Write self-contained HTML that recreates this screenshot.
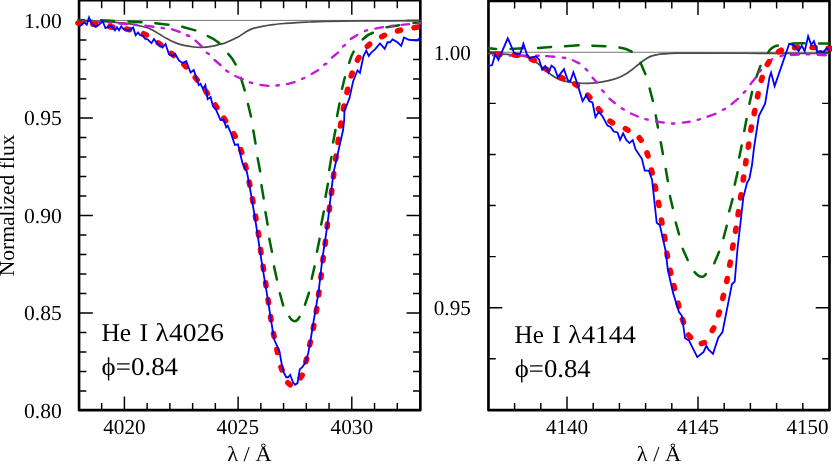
<!DOCTYPE html>
<html><head><meta charset="utf-8"><title>He I line profiles</title>
<style>html,body{margin:0;padding:0;background:#fff;overflow:hidden}body{width:832px;height:466px;font-family:"Liberation Serif",serif}</style></head>
<body>
<svg width="832" height="466" viewBox="0 0 832 466" style="display:block">
<rect width="832" height="466" fill="#fff"/>
<filter id="nf" x="0" y="0" width="832" height="466" filterUnits="userSpaceOnUse"><feOffset dx="0" dy="0"/></filter>
<path d="M101.66,410.2v-7.3M124.40,410.2v-13.8M147.14,410.2v-7.3M169.88,410.2v-7.3M192.62,410.2v-7.3M215.36,410.2v-7.3M238.10,410.2v-13.8M260.84,410.2v-7.3M283.58,410.2v-7.3M306.32,410.2v-7.3M329.06,410.2v-7.3M351.80,410.2v-13.8M374.54,410.2v-7.3M397.28,410.2v-7.3M101.66,0.05v8.1M124.40,0.05v14.6M147.14,0.05v8.1M169.88,0.05v8.1M192.62,0.05v8.1M215.36,0.05v8.1M238.10,0.05v14.6M260.84,0.05v8.1M283.58,0.05v8.1M306.32,0.05v8.1M329.06,0.05v8.1M351.80,0.05v14.6M374.54,0.05v8.1M397.28,0.05v8.1M79.05,20.50h13.8M79.05,40.00h7.3M79.05,59.50h7.3M79.05,79.00h7.3M79.05,98.50h7.3M79.05,118.00h13.8M79.05,137.50h7.3M79.05,157.00h7.3M79.05,176.50h7.3M79.05,196.00h7.3M79.05,215.50h13.8M79.05,235.00h7.3M79.05,254.50h7.3M79.05,274.00h7.3M79.05,293.50h7.3M79.05,313.00h13.8M79.05,332.50h7.3M79.05,352.00h7.3M79.05,371.50h7.3M79.05,391.00h7.3M420.35,20.50h-13.8M420.35,40.00h-7.3M420.35,59.50h-7.3M420.35,79.00h-7.3M420.35,98.50h-7.3M420.35,118.00h-13.8M420.35,137.50h-7.3M420.35,157.00h-7.3M420.35,176.50h-7.3M420.35,196.00h-7.3M420.35,215.50h-13.8M420.35,235.00h-7.3M420.35,254.50h-7.3M420.35,274.00h-7.3M420.35,293.50h-7.3M420.35,313.00h-13.8M420.35,332.50h-7.3M420.35,352.00h-7.3M420.35,371.50h-7.3M420.35,391.00h-7.3" stroke="#000" stroke-width="1.45" fill="none"/>
<rect x="79.05" y="0.05" width="341.30" height="410.15" fill="none" stroke="#000" stroke-width="2.65" stroke-linejoin="round"/>
<path d="M514.60,410.2v-7.3M540.80,410.2v-7.3M567.00,410.2v-13.8M593.20,410.2v-7.3M619.40,410.2v-7.3M645.60,410.2v-7.3M671.80,410.2v-7.3M698.00,410.2v-13.8M724.20,410.2v-7.3M750.40,410.2v-7.3M776.60,410.2v-7.3M802.80,410.2v-7.3M514.60,0.9v7.5M540.80,0.9v7.5M567.00,0.9v14M593.20,0.9v7.5M619.40,0.9v7.5M645.60,0.9v7.5M671.80,0.9v7.5M698.00,0.9v14M724.20,0.9v7.5M750.40,0.9v7.5M776.60,0.9v7.5M802.80,0.9v7.5M488.45,52.30h13.8M488.45,103.38h7.3M488.45,154.46h7.3M488.45,205.54h7.3M488.45,256.62h7.3M488.45,307.70h13.8M488.45,358.78h7.3M829.5,52.30h-13.8M829.5,103.38h-7.3M829.5,154.46h-7.3M829.5,205.54h-7.3M829.5,256.62h-7.3M829.5,307.70h-13.8M829.5,358.78h-7.3" stroke="#000" stroke-width="1.45" fill="none"/>
<rect x="488.45" y="0.9" width="341.05" height="409.30" fill="none" stroke="#000" stroke-width="2.65" stroke-linejoin="round"/>
<clipPath id="cL"><rect x="74.45" y="0" width="350.50" height="411.50"/></clipPath>
<g clip-path="url(#cL)" fill="none">
<path d="M79.05,20.4H420.35" stroke="#505050" stroke-width="0.8"/>
<path d="M78.00,20.70 C81.67,20.80 93.83,21.03 100.00,21.30 C106.17,21.57 110.00,21.88 115.00,22.30 C120.00,22.72 125.88,23.21 130.00,23.80 C134.12,24.39 136.68,25.15 139.70,25.85 C142.72,26.55 145.70,27.14 148.10,28.00 C150.50,28.86 152.10,29.90 154.10,31.00 C156.10,32.10 157.90,33.30 160.10,34.60 C162.30,35.90 164.90,37.50 167.30,38.80 C169.70,40.10 171.70,41.30 174.50,42.40 C177.30,43.50 180.89,44.63 184.10,45.40 C187.31,46.17 190.93,46.67 193.75,47.00 C196.57,47.33 198.08,47.50 201.00,47.40 C203.92,47.30 208.08,46.92 211.25,46.40 C214.42,45.88 217.71,44.87 220.00,44.30 C222.29,43.73 222.17,44.12 225.00,43.00 C227.83,41.88 233.60,39.40 237.00,37.60 C240.40,35.80 242.80,33.70 245.40,32.20 C248.00,30.70 250.00,29.53 252.60,28.60 C255.20,27.67 257.60,27.26 261.00,26.60 C264.40,25.94 269.00,25.17 273.00,24.65 C277.00,24.12 281.00,23.79 285.00,23.45 C289.00,23.11 293.00,22.84 297.00,22.60 C301.00,22.36 304.33,22.22 309.00,22.00 C313.67,21.78 316.50,21.48 325.00,21.30 C333.50,21.12 343.92,21.00 360.00,20.90 C376.08,20.80 411.25,20.73 421.50,20.70" stroke="#4a4a4a" stroke-width="1.7"/>
<path d="M78.50,19.95L84.00,20.20M101.00,20.30L114.00,20.95M128.50,21.55L141.50,22.20M155.39,23.21L168.41,24.64M182.21,26.76L195.29,30.34M207.76,36.12Q213.95,38.65 219.14,42.98M228.32,53.92Q232.60,58.40 235.68,64.48M240.89,77.86L244.71,90.29M247.99,104.07L251.01,116.53M253.36,130.59L255.54,143.61M257.68,158.18L260.12,171.32M261.46,185.29L263.64,198.41M265.47,212.19L267.63,224.51M269.30,238.78L271.90,251.82M274.01,266.38L276.89,279.52M279.86,293.27L283.14,305.43M289.40,316.90Q294.95,325.50 299.50,316.90M305.02,304.65L308.98,292.75M311.72,278.73L314.58,266.37M317.00,251.82L319.60,238.78M321.20,224.52L323.80,211.48M325.48,196.92L327.92,183.78M329.26,170.01L331.44,156.99M333.08,142.42L335.42,129.98M337.09,116.02L339.51,103.48M342.04,88.73L344.86,77.22M349.17,62.82Q350.80,56.42 353.63,51.53M362.74,39.45Q366.97,34.67 372.91,32.80M386.59,27.33L399.01,25.17M413.50,23.05L420.00,22.75" stroke="#006400" stroke-width="2.5" stroke-linecap="round"/>
<path d="M82.55,21.52L84.95,21.58M92.60,21.85L100.60,22.25M108.80,22.66L111.20,22.84M119.10,23.55L127.10,23.95M134.43,24.80L136.82,24.95M145.39,25.73L153.41,26.77M161.65,27.83L164.00,28.32M172.19,29.33L179.66,31.92M186.99,35.25L189.26,36.00M195.49,40.68L201.51,46.22M206.83,52.65L208.82,54.00M214.52,60.04L220.48,64.96M226.14,70.57L228.21,71.78M235.31,76.01L242.84,79.34M249.79,82.36L252.11,82.99M260.39,84.87L268.41,85.88M276.46,85.53L278.84,85.27M286.97,84.05L294.53,82.05M302.09,78.91L304.31,77.99M311.66,73.99L318.04,70.21M324.21,64.66L326.39,63.64M332.03,57.47L337.97,52.63M343.12,46.40L344.98,44.90M350.85,38.87L357.25,34.93M364.84,31.07L367.06,30.18M375.38,28.56L382.77,27.09M390.98,25.95L393.37,25.65M401.59,24.89L409.01,24.11M417.80,23.49L420.20,23.41" stroke="#c21ad8" stroke-width="2.4" stroke-linecap="round"/>
<path d="M77.86,22.97L80.94,23.23M92.86,24.22L95.94,24.58M109.72,26.67L112.78,27.13M126.59,29.06L129.61,29.74M143.59,33.75L146.41,35.05M158.15,42.84L160.65,44.66M171.32,53.39L173.68,55.41M183.92,64.49L186.08,66.71M195.28,77.54L197.22,79.96M205.60,90.99L207.40,93.51M215.14,104.96L216.86,107.54M223.86,118.19L225.54,120.81M233.68,133.63L235.12,136.37M240.68,149.54L241.72,152.46M245.32,165.20L246.08,168.20M249.18,182.08L249.82,185.12M252.42,198.88L252.98,201.92M255.44,215.97L255.96,219.03M258.27,232.47L258.73,235.53M260.58,249.57L261.02,252.63M263.07,266.37L263.53,269.43M265.57,282.77L266.03,285.83M268.07,299.77L268.53,302.83M270.55,316.67L271.05,319.73M273.50,333.48L274.10,336.52M276.85,349.49L277.55,352.51M280.97,367.04L282.03,369.96M287.85,382.71L290.15,384.79M300.33,377.75L302.17,375.25M305.85,361.75L306.65,358.75M309.67,345.01L310.33,341.99M313.20,328.52L313.80,325.48M316.26,311.63L316.74,308.57M318.59,295.04L319.01,291.96M320.91,277.74L321.29,274.66M322.91,260.64L323.29,257.56M325.11,244.34L325.49,241.26M327.11,227.04L327.49,223.96M329.20,210.24L329.60,207.16M331.41,193.44L331.79,190.36M333.41,176.84L333.79,173.76M335.69,159.24L336.11,156.16M337.98,142.43L338.42,139.37M340.45,126.03L340.95,122.97M343.40,109.12L344.00,106.08M346.94,92.31L347.66,89.29M351.20,75.97L352.20,73.03M357.43,60.09L358.97,57.41M367.36,46.30L369.64,44.20M381.70,36.67L384.50,35.33M397.50,30.99L400.50,30.21M414.08,27.78L417.12,27.22" stroke="#ff0000" stroke-width="5.6" stroke-linecap="round"/>
<path d="M78.75,26.90 L84.40,22.50 L86.83,24.74 L89.07,17.56 L91.25,23.10 L95.60,26.90 L99.40,24.40 L102.75,21.26 L105.40,28.10 L111.25,25.60 L114.99,30.50 L116.91,27.19 L118.99,30.31 L121.26,26.31 L123.75,29.40 L128.75,30.60 L133.10,27.50 L135.66,35.29 L138.10,32.50 L140.00,35.00 L143.10,36.25 L145.00,38.75 L147.50,39.40 L151.50,43.10 L154.00,39.01 L157.50,43.75 L162.50,47.50 L165.55,44.02 L169.00,54.40 L172.50,56.25 L175.00,53.75 L178.90,60.50 L182.50,63.00 L186.25,61.25 L190.60,72.50 L193.75,70.00 L198.75,85.00 L200.60,83.75 L203.08,89.06 L205.35,85.22 L207.60,99.16 L210.58,96.96 L213.00,106.25 L216.10,110.00 L220.50,120.00 L223.60,119.75 L226.18,127.34 L227.71,125.57 L231.10,133.75 L234.90,145.00 L238.00,144.40 L242.40,163.00 L247.00,172.30 L250.70,192.40 L254.50,215.00 L257.50,234.00 L262.00,264.20 L267.00,294.30 L273.30,334.50 L274.40,340.00 L279.40,351.25 L281.90,365.00 L283.75,372.50 L286.25,377.25 L288.10,377.25 L290.22,374.92 L293.10,382.50 L295.00,384.75 L297.50,383.10 L299.75,369.40 L302.50,366.90 L305.00,363.10 L308.10,353.75 L310.60,340.00 L313.50,321.90 L318.60,291.80 L322.30,259.10 L326.10,234.00 L328.60,215.00 L331.10,192.40 L333.60,172.30 L337.50,155.00 L340.40,142.00 L343.10,130.00 L344.20,120.00 L344.40,111.30 L349.50,98.10 L353.10,81.40 L357.53,70.29 L359.97,72.79 L363.50,56.00 L366.23,50.51 L368.79,55.89 L371.25,52.50 L375.00,49.40 L380.00,43.50 L384.73,48.88 L387.50,42.25 L390.00,42.25 L392.50,39.40 L397.50,42.25 L401.22,45.88 L404.00,37.50 L408.75,39.75 L417.50,40.60 L420.60,36.90" stroke="#0000ff" stroke-width="1.8" stroke-linejoin="miter" stroke-miterlimit="12"/>
</g>
<clipPath id="cR"><rect x="483.85" y="0" width="350.25" height="411.50"/></clipPath>
<g clip-path="url(#cR)" fill="none">
<path d="M488.45,52.25H829.5" stroke="#505050" stroke-width="0.8"/>
<path d="M487.50,53.50 C489.58,53.57 496.42,53.73 500.00,53.90 C503.58,54.07 506.00,54.27 509.00,54.50 C512.00,54.73 515.08,54.90 518.00,55.30 C520.92,55.70 523.42,55.70 526.50,56.90 C529.58,58.10 533.58,60.48 536.50,62.50 C539.42,64.52 541.50,66.92 544.00,69.00 C546.50,71.08 549.00,73.27 551.50,75.00 C554.00,76.73 556.75,78.37 559.00,79.40 C561.25,80.43 562.83,80.67 565.00,81.20 C567.17,81.73 569.50,82.27 572.00,82.60 C574.50,82.93 577.33,83.07 580.00,83.20 C582.67,83.33 585.17,83.50 588.00,83.40 C590.83,83.30 594.17,82.95 597.00,82.60 C599.83,82.25 602.29,81.83 605.00,81.30 C607.71,80.77 610.75,80.12 613.25,79.40 C615.75,78.68 617.71,78.02 620.00,77.00 C622.29,75.98 625.00,74.52 627.00,73.30 C629.00,72.08 630.33,70.97 632.00,69.70 C633.67,68.43 635.33,67.03 637.00,65.70 C638.67,64.37 640.33,62.95 642.00,61.70 C643.67,60.45 645.33,59.17 647.00,58.20 C648.67,57.23 650.33,56.48 652.00,55.90 C653.67,55.32 655.17,55.08 657.00,54.75 C658.83,54.42 660.92,54.11 663.00,53.90 C665.08,53.69 667.33,53.62 669.50,53.50 C671.67,53.38 670.92,53.25 676.00,53.20 C681.08,53.15 686.00,53.18 700.00,53.20 C714.00,53.22 738.33,53.25 760.00,53.30 C781.67,53.35 818.33,53.47 830.00,53.50" stroke="#4a4a4a" stroke-width="1.7"/>
<path d="M488.75,48.20L496.10,48.90M510.60,48.94L523.00,48.16M538.10,48.02L551.10,46.98M565.00,46.19L578.60,45.36M592.40,45.64L605.40,46.21M619.45,47.56Q626.45,48.42 631.65,51.59M640.50,62.82L645.35,74.08M649.65,88.47L652.85,100.93M655.77,115.38L657.93,127.52M660.78,142.23L662.92,154.02M665.77,169.09L667.83,181.01M669.93,196.07L672.77,207.93M675.77,222.46L679.03,234.34M682.71,248.81L687.69,259.99M694.59,272.16Q701.80,280.50 705.81,274.04M714.29,263.28L719.11,251.82M723.46,238.13L726.74,225.77M729.26,211.23L732.54,199.07M734.72,184.63L737.58,172.17M739.20,157.42L741.70,145.48M744.28,131.02L746.52,118.98M749.42,103.82L752.08,91.88M756.44,76.86L760.41,65.94M768.21,52.51Q771.00,46.95 777.79,45.59M792.10,43.47L804.50,43.13M819.00,43.50L829.00,43.50" stroke="#006400" stroke-width="2.5" stroke-linecap="round"/>
<path d="M493.20,55.40L501.20,55.40M509.70,55.50L512.10,55.50M519.75,55.51L527.75,55.59M536.30,55.72L538.70,55.78M546.25,56.09L554.25,56.81M562.81,57.61L565.19,57.99M572.90,60.23L579.30,63.32M585.62,68.89L587.38,70.51M592.65,77.66L596.85,82.54M602.13,90.25L603.77,92.00M609.52,98.74L614.83,103.11M621.76,108.37L623.89,109.48M630.92,113.50L637.83,116.50M645.38,119.09L647.72,119.66M655.99,121.53L663.81,122.57M671.92,123.50L674.33,123.50M682.89,122.62L689.61,121.73M697.69,119.80L700.01,119.20M707.55,116.58L715.55,113.92M722.89,109.82L725.11,108.88M731.56,104.15L737.84,98.85M743.65,92.85L745.35,91.15M750.61,84.11L755.39,77.99M759.34,71.81L761.01,70.09M765.75,64.84L772.25,59.16M780.64,56.20L782.86,55.30M790.90,54.94L798.90,54.46M806.80,54.40L809.20,54.40M817.75,54.80L825.75,55.20" stroke="#c21ad8" stroke-width="2.4" stroke-linecap="round"/>
<path d="M496.85,54.32L499.95,54.48M514.37,55.01L517.43,55.49M531.34,59.10L534.16,60.40M545.18,68.58L547.82,70.22M560.32,77.08L563.08,78.52M574.82,83.93L577.38,85.67M587.70,95.11L589.80,97.39M598.38,108.83L600.42,111.17M609.99,121.10L612.51,122.90M625.36,128.62L628.04,130.18M639.26,137.81L641.24,140.19M646.98,152.94L648.02,155.86M651.44,169.99L652.16,173.01M655.08,186.08L655.72,189.12M658.42,202.38L658.98,205.42M661.43,219.97L661.97,223.03M664.45,236.27L664.95,239.33M666.94,253.37L667.46,256.43M670.17,270.29L670.83,273.31M673.84,285.49L674.56,288.51M678.01,303.20L678.79,306.20M682.48,319.34L683.52,322.26M688.47,335.04L690.53,337.36M701.41,343.54L704.39,342.66M712.26,330.56L713.74,327.84M718.44,314.98L719.36,312.02M722.74,298.41L723.46,295.39M726.68,281.52L727.32,278.48M729.73,265.23L730.27,262.17M732.54,248.13L733.06,245.07M735.55,231.33L736.05,228.27M738.07,214.73L738.53,211.67M740.57,197.93L741.03,194.87M743.18,180.03L743.62,176.97M745.56,163.73L746.04,160.67M748.26,147.13L748.74,144.07M750.83,130.13L751.37,127.07M754.19,113.62L754.81,110.58M757.47,96.81L758.13,93.79M761.32,80.27L762.28,77.33M767.40,64.40L769.10,61.80M778.55,51.76L781.25,50.24M794.56,47.66L797.64,47.34M812.05,47.45L815.15,47.55M828.35,48.41L831.45,48.59" stroke="#ff0000" stroke-width="5.6" stroke-linecap="round"/>
<path d="M487.75,66.25 L492.10,65.00 L495.33,54.29 L498.40,59.84 L507.75,38.27 L514.00,52.50 L517.10,54.40 L520.25,53.50 L523.41,43.67 L527.10,55.00 L530.25,58.10 L533.40,56.90 L535.90,56.50 L539.00,59.40 L542.17,69.64 L545.23,66.17 L548.39,72.71 L551.50,65.60 L554.60,68.10 L557.81,77.12 L563.94,69.13 L567.75,80.00 L570.25,81.25 L573.40,72.16 L577.10,83.00 L582.59,101.13 L586.24,95.34 L589.40,101.25 L592.50,102.50 L595.43,117.05 L598.75,111.90 L602.50,116.25 L607.50,125.60 L610.60,126.90 L613.75,131.50 L617.50,132.50 L620.04,139.89 L623.13,133.39 L626.25,140.00 L629.40,143.10 L632.72,140.09 L635.60,149.40 L641.90,158.75 L644.75,170.60 L648.10,170.60 L649.10,171.25 L652.10,180.00 L656.70,222.80 L659.90,225.30 L665.50,250.40 L667.90,270.00 L673.10,293.10 L679.00,312.00 L681.90,315.80 L685.10,338.30 L688.90,340.40 L697.30,357.20 L703.60,351.90 L706.32,345.79 L708.40,349.40 L712.97,353.88 L718.30,337.60 L722.50,332.00 L727.70,305.70 L731.90,284.30 L734.70,281.60 L735.70,270.00 L737.60,247.90 L740.80,220.25 L743.30,197.60 L747.10,182.60 L749.40,178.60 L752.00,165.00 L754.00,147.80 L758.90,115.80 L765.10,103.70 L769.50,77.20 L771.05,72.64 L774.62,86.07 L789.25,43.75 L794.25,45.60 L798.59,51.16 L801.72,45.61 L804.70,51.25 L808.13,36.20 L811.21,44.82 L813.92,41.26 L817.40,51.90 L820.50,51.00 L823.60,51.90 L826.75,48.10 L829.90,50.60" stroke="#0000ff" stroke-width="1.8" stroke-linejoin="miter" stroke-miterlimit="12"/>
</g>
<g font-family="'Liberation Serif', serif" fill="#000" text-rendering="geometricPrecision" filter="url(#nf)">
<text x="61.8" y="27.8" font-size="21.4" text-anchor="end" textLength="37.8" lengthAdjust="spacingAndGlyphs">1.00</text>
<text x="61.8" y="125.3" font-size="21.4" text-anchor="end" textLength="37.8" lengthAdjust="spacingAndGlyphs">0.95</text>
<text x="61.8" y="222.8" font-size="21.4" text-anchor="end" textLength="37.8" lengthAdjust="spacingAndGlyphs">0.90</text>
<text x="61.8" y="320.3" font-size="21.4" text-anchor="end" textLength="37.8" lengthAdjust="spacingAndGlyphs">0.85</text>
<text x="61.8" y="417.8" font-size="21.4" text-anchor="end" textLength="37.8" lengthAdjust="spacingAndGlyphs">0.80</text>
<text x="470.8" y="59.599999999999994" font-size="21.4" text-anchor="end" textLength="37.0" lengthAdjust="spacingAndGlyphs">1.00</text>
<text x="470.8" y="315.0" font-size="21.4" text-anchor="end" textLength="37.0" lengthAdjust="spacingAndGlyphs">0.95</text>
<text x="124.4" y="434" font-size="21.4" text-anchor="middle" textLength="42.4" lengthAdjust="spacingAndGlyphs">4020</text>
<text x="237.8" y="434" font-size="21.4" text-anchor="middle" textLength="42.4" lengthAdjust="spacingAndGlyphs">4025</text>
<text x="351.8" y="434" font-size="21.4" text-anchor="middle" textLength="42.4" lengthAdjust="spacingAndGlyphs">4030</text>
<text x="567" y="434" font-size="21.4" text-anchor="middle" textLength="42.0" lengthAdjust="spacingAndGlyphs">4140</text>
<text x="698" y="434" font-size="21.4" text-anchor="middle" textLength="42.0" lengthAdjust="spacingAndGlyphs">4145</text>
<text x="828.6" y="434" font-size="21.4" text-anchor="end" textLength="42.0" lengthAdjust="spacingAndGlyphs">4150</text>
<text x="249.4" y="461.2" font-size="21.4" text-anchor="middle" textLength="44.4" lengthAdjust="spacingAndGlyphs">λ / Å</text>
<text x="659" y="461.2" font-size="21.4" text-anchor="middle" textLength="44.4" lengthAdjust="spacingAndGlyphs">λ / Å</text>
<text transform="translate(13.9,205.4) rotate(-90)" font-size="21.4" text-anchor="middle" textLength="141.6" lengthAdjust="spacingAndGlyphs">Normalized flux</text>
<text y="340.7" font-size="25.6"><tspan x="101.4" textLength="29.8" lengthAdjust="spacingAndGlyphs">He</tspan><tspan x="139.6" textLength="8.7" lengthAdjust="spacingAndGlyphs">I</tspan><tspan x="155.6" textLength="68.4" lengthAdjust="spacingAndGlyphs">λ4026</tspan></text>
<text y="374.6" font-size="25.6"><tspan x="101.6" textLength="76.5" lengthAdjust="spacingAndGlyphs">ϕ=0.84</tspan></text>
<text y="342.7" font-size="25.6"><tspan x="514.6" textLength="29.3" lengthAdjust="spacingAndGlyphs">He</tspan><tspan x="552.1" textLength="8.7" lengthAdjust="spacingAndGlyphs">I</tspan><tspan x="568.3" textLength="67.6" lengthAdjust="spacingAndGlyphs">λ4144</tspan></text>
<text y="376.7" font-size="25.6"><tspan x="514.8" textLength="75.9" lengthAdjust="spacingAndGlyphs">ϕ=0.84</tspan></text>
</g>
</svg>
</body></html>
